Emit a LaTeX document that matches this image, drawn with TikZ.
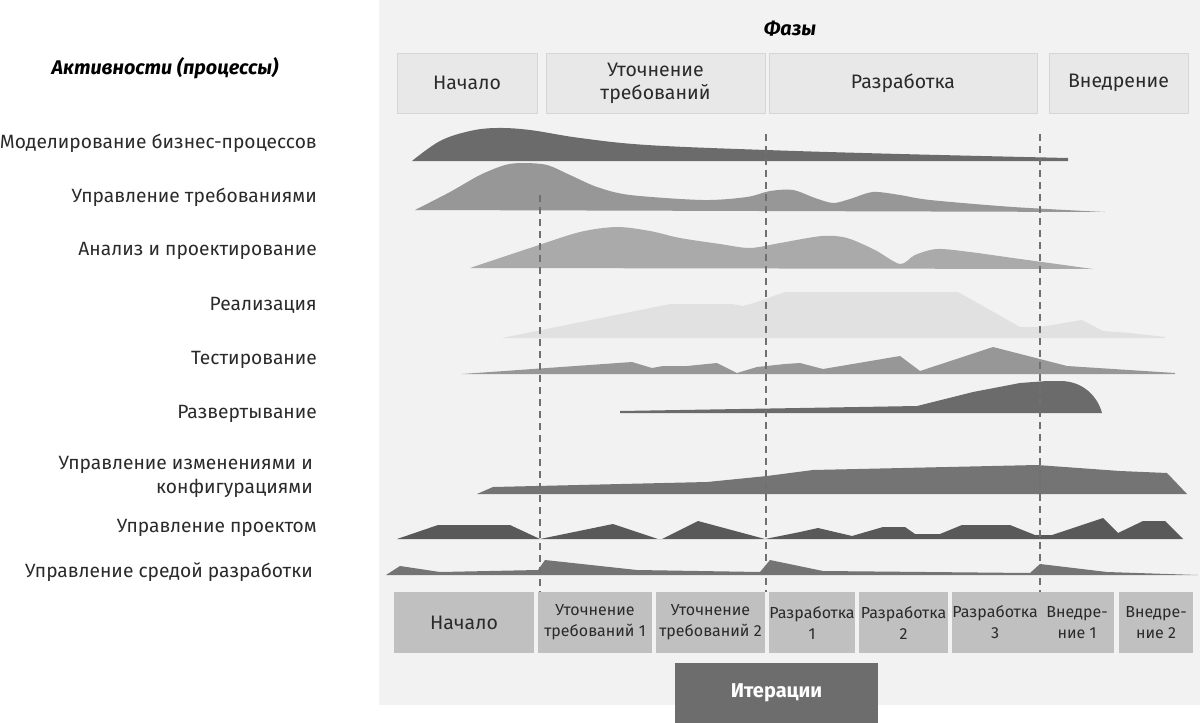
\documentclass[tikz,border=0pt]{standalone}
\usepackage{fontspec}
\setmainfont{Fira Sans}
\usetikzlibrary{positioning}

\definecolor{panel}{HTML}{F2F2F2}
\definecolor{phasefill}{HTML}{E8E8E8}
\definecolor{phaseline}{HTML}{D6D6D6}
\definecolor{iterfill}{HTML}{C0C0C0}
\definecolor{iterdark}{HTML}{6D6D6D}
\definecolor{txt}{HTML}{2A2A2A}
\definecolor{dashc}{HTML}{707070}
\definecolor{gA}{HTML}{6B6B6B}
\definecolor{gB}{HTML}{979797}
\definecolor{gC}{HTML}{AAAAAA}
\definecolor{gD}{HTML}{E1E1E1}
\definecolor{gE}{HTML}{595959}
\definecolor{gF}{HTML}{747474}

\tikzset{
    actlabel/.style={anchor=east, inner sep=0pt, align=right, text=txt,
        font=\fontsize{19.2}{24}\selectfont},
    phasebox/.style={draw=phaseline, fill=phasefill, line width=1pt, text=txt,
        minimum height=60pt, align=center, font=\fontsize{19.5}{23}\selectfont},
    iterbox/.style={fill=iterfill, minimum height=61pt, inner sep=0pt, align=center,
        text=txt, font=\fontsize{16}{21}\selectfont},
    itertext/.style={inner sep=0pt, align=center, text=txt,
        font=\fontsize{16}{21}\selectfont},
    milestone/.style={draw=dashc, line width=2pt, dash pattern=on 7pt off 5pt},
    heading/.style={font=\bfseries\itshape\fontsize{19.8}{23}\selectfont, text=black}
}

\begin{document}
\begin{tikzpicture}[x=1pt,y=-1pt]
\useasboundingbox (0,0) rectangle (1200,723);
% Draw the panel
\fill[panel] (379,0) rectangle (1200,705);

% Headings
\node[heading] (phases) at (790,29) {Фазы};
\node[heading] (acts) at (165,68) {Активности (процессы)};

% Phases
\node[phasebox, minimum width=140pt] (ph1) at (467,83) {Начало};
\node[phasebox, minimum width=219pt] (ph2) at (655.5,83) {Уточнение\\требований};
\node[phasebox, minimum width=268pt] (ph3) at (903,83) {Разработка};
\node[phasebox, minimum width=139pt] (ph4) at (1118.5,83) {Внедрение};

% Activities
\node[actlabel] (a1) at (317,143) {Моделирование бизнес-процессов};
\node[actlabel] (a2) at (317,197) {Управление требованиями};
\node[actlabel] (a3) at (317,251) {Анализ и проектирование};
\node[actlabel] (a4) at (317,305) {Реализация};
\node[actlabel] (a5) at (317,360) {Тестирование};
\node[actlabel] (a6) at (317,414) {Развертывание};
\node[actlabel] (a7) at (313,477) {Управление изменениями и\\конфигурациями};
\node[actlabel] (a8) at (317,528) {Управление проектом};
\node[actlabel] (a9) at (313,572) {Управление средой разработки};

% Humps
\fill[gA] plot[smooth, tension=0.6] coordinates {(412,161) (440,141) (470,131) (497,128) (530,130) (580,138) (647,145) (766,150) (900,154) (1068,158)} -- (1068,161) -- cycle;
\fill[gB] plot[smooth, tension=0.5] coordinates {(415,210) (450,192) (480,175) (505,165) (523,163) (547,165) (570,175) (597,187) (630,195) (703,200) (747,197) (770,191) (793,190) (815,198) (833,203) (850,199) (873,192) (900,195) (930,200) (1013,207) (1105,212)} -- cycle;
\fill[gC] plot[smooth, tension=0.5] coordinates {(470,268) (530,248) (580,232) (617,227) (650,231) (680,238) (720,244) (750,248) (780,243) (822,236) (847,238) (875,250) (900,264) (915,255) (937,249) (970,252) (1013,258) (1093,269)} -- cycle;
\fill[gD] (502,338) -- (670,304) -- (732,304) -- (743,306) -- (757,302) -- (785,292) -- (958,292) -- (1020,327) -- (1040,327) -- (1082,320) -- (1103,331) -- (1130,333) -- (1165,337) -- (1165,338) -- cycle;
\fill[gB] (462,374) -- (632,362) -- (652,368) -- (663,366) -- (687,366) -- (717,363) -- (737,373) -- (757,367) -- (785,364) -- (800,363) -- (823,369) -- (900,356) -- (920,371) -- (993,347) -- (1067,366) -- (1175,373) -- (1175,374) -- cycle;
\fill[gA] (620,413) -- (620,411) -- (800,408) -- (917,406) -- (973,392) -- (1020,383) -- (1047,381) -- (1062,381) .. controls (1085,382) and (1098,398) .. (1102,413) -- cycle;
\fill[gF] (477,494) -- (493,487) -- (707,482) -- (767,476) -- (813,470) -- (1037,465) -- (1120,471) -- (1167,473) -- (1187,494) -- cycle;
\fill[gE] (397,539) -- (438,525) -- (510,525) -- (540,539) -- (613,524) -- (658,539) -- (662,539) -- (698,521) -- (765,539) -- (800,532) -- (818,528) -- (852,536) -- (883,527) -- (905,527) -- (915,534) -- (940,534) -- (962,525) -- (1010,525) -- (1035,535) -- (1052,535) -- (1103,518) -- (1118,533) -- (1143,521) -- (1165,521) -- (1183,539) -- cycle;
\fill[gF] (386,575) -- (400,566) -- (440,572) -- (538,570) -- (545,560) -- (637,570) -- (760,572) -- (770,560) -- (823,571) -- (1030,573) -- (1040,564) -- (1107,572) -- (1198,575) -- cycle;

% Iterations
\node[iterbox, minimum width=140pt, font=\fontsize{19.5}{23}\selectfont] (it1) at (464,622.5) {Начало};
\node[iterbox, minimum width=114pt] (it2) at (595,622.5) {Уточнение\\требований 1};
\node[iterbox, minimum width=109pt] (it3) at (710.5,622.5) {Уточнение\\требований 2};
\node[iterbox, minimum width=85pt] (it4) at (812,622.5) {Разработка\\1};
\node[iterbox, minimum width=89pt] (it5) at (903.5,622.5) {Разработка\\2};
\node[iterbox, minimum width=162pt] (it6) at (1033,622.5) {};
\node[itertext] (it6a) at (995,622.5) {Разработка\\3};
\node[itertext] (it6b) at (1077,622.5) {Внедре-\\ние 1};
\node[iterbox, minimum width=74pt] (it7) at (1156,622.5) {Внедре-\\ние 2};
\node[fill=iterdark, minimum width=203pt, minimum height=60pt, text=white,
      font=\bfseries\fontsize{20}{24}\selectfont] (iters) at (776.5,692.5) {Итерации};

% Milestones
\coordinate (m1) at (540,195);
\coordinate (m2) at (766,134);
\coordinate (m3) at (1040,134);
\draw[milestone] (m1) -- (m1 |- it2.north);
\draw[milestone] (m2) -- (m2 |- it4.north);
\draw[milestone] (m3) -- (m3 |- it6.north);
\end{tikzpicture}
\end{document}
